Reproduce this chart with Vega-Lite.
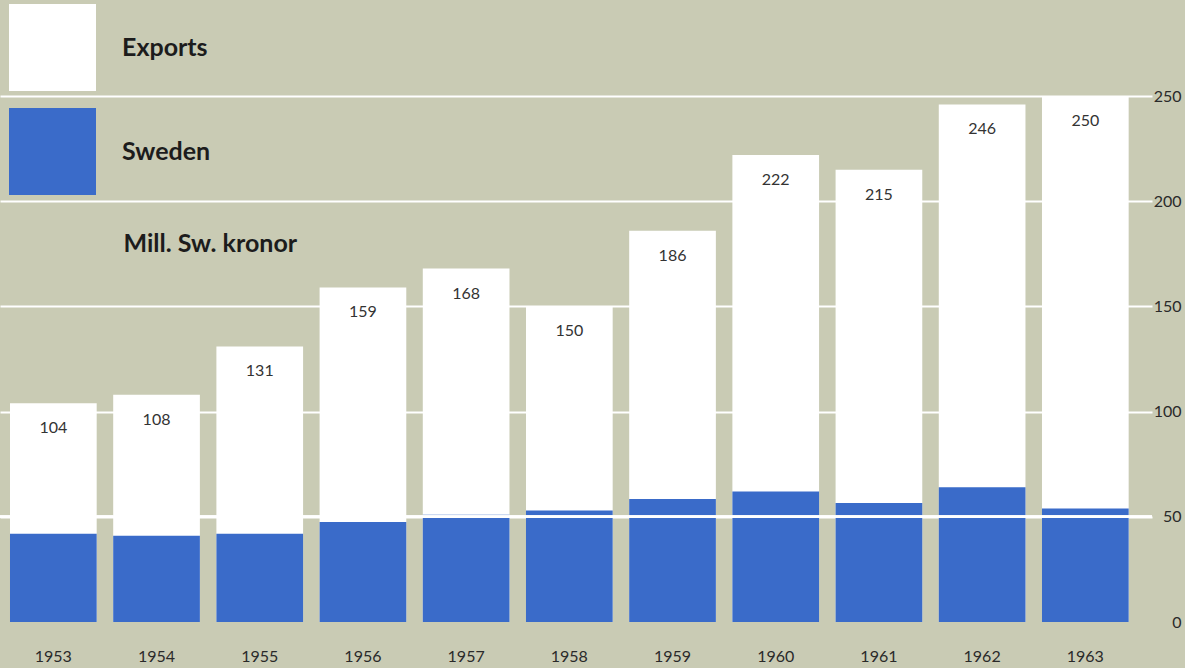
{
  "$schema": "https://vega.github.io/schema/vega-lite/v6.json",
  "width": 1152,
  "height": 526,
  "autosize": {"type": "none"},
  "padding": {"left": 0, "top": 96, "right": 33, "bottom": 46},
  "background": "#c9cbb4",
  "config": {"view": {"stroke": null}, "font": "Lato"},
  "data": {
    "values": [
      {"year": "1953", "exports": 104, "sweden": 42},
      {"year": "1954", "exports": 108, "sweden": 41},
      {"year": "1955", "exports": 131, "sweden": 42},
      {"year": "1956", "exports": 159, "sweden": 47.5},
      {"year": "1957", "exports": 168, "sweden": 51},
      {"year": "1958", "exports": 150, "sweden": 53},
      {"year": "1959", "exports": 186, "sweden": 58.5},
      {"year": "1960", "exports": 222, "sweden": 62},
      {"year": "1961", "exports": 215, "sweden": 56.5},
      {"year": "1962", "exports": 246, "sweden": 64},
      {"year": "1963", "exports": 250, "sweden": 54}
    ]
  },
  "layer": [
    {
      "mark": {"type": "bar"},
      "encoding": {
        "x": {
          "field": "year",
          "type": "ordinal",
          "scale": {"paddingInner": 0.16, "paddingOuter": 0.1615, "align": 0.3},
          "axis": {
            "title": null,
            "labelAngle": 0,
            "ticks": false,
            "domain": false,
            "grid": false,
            "labelPadding": 26,
            "labelFontSize": 16,
            "labelColor": "#2a2a2a",
            "labelFont": "Lato"
          }
        },
        "y": {
          "field": "exports",
          "type": "quantitative",
          "title": "Mill. Sw. kronor",
          "scale": {"domain": [0, 250], "nice": false},
          "axis": {
            "orient": "right",
            "values": [0, 50, 100, 150, 200, 250],
            "ticks": false,
            "domain": false,
            "grid": true,
            "gridColor": "#ffffff",
            "gridWidth": 2,
            "gridOpacity": {"condition": {"test": "datum.value === 0", "value": 0}, "value": 1},
            "zindex": 0,
            "labelAlign": "right",
            "labelPadding": 29,
            "labelFontSize": 16,
            "labelColor": "#2a2a2a",
            "labelFont": "Lato",
            "title": "Mill. Sw. kronor",
            "titleAngle": 0,
            "titleAlign": "left",
            "titleBaseline": "middle",
            "titleX": -1029,
            "titleY": 147,
            "titleFont": "Lato",
            "titleFontSize": 25,
            "titleFontWeight": "bold",
            "titleColor": "#1c1c1c"
          }
        },
        "color": {
          "datum": "Exports",
          "scale": {"domain": ["Exports", "Sweden"], "range": ["#ffffff", "#3a6bc9"]},
          "legend": {
            "orient": "none",
            "legendX": 9,
            "legendY": -92,
            "title": null,
            "padding": 0,
            "symbolType": "square",
            "symbolSize": 7569,
            "symbolStrokeWidth": 0,
            "symbolOpacity": 1,
            "rowPadding": 17,
            "labelOffset": 26,
            "labelFont": "Lato",
            "labelFontSize": 25,
            "labelFontWeight": "bold",
            "labelColor": "#1c1c1c",
            "labelLimit": 400
          }
        }
      }
    },
    {
      "mark": {"type": "bar"},
      "encoding": {
        "x": {"field": "year", "type": "ordinal"},
        "y": {"field": "sweden", "type": "quantitative", "title": "Mill. Sw. kronor"},
        "color": {"datum": "Sweden"}
      }
    },
    {
      "mark": {"type": "rule", "color": "#ffffff", "strokeWidth": 2},
      "encoding": {
        "y": {"datum": 50, "type": "quantitative"}
      }
    },
    {
      "mark": {"type": "text", "baseline": "middle", "dy": 25, "fontSize": 16, "color": "#333333", "font": "Lato"},
      "encoding": {
        "x": {"field": "year", "type": "ordinal"},
        "y": {"field": "exports", "type": "quantitative", "title": "Mill. Sw. kronor"},
        "text": {"field": "exports", "type": "quantitative"}
      }
    }
  ]
}
